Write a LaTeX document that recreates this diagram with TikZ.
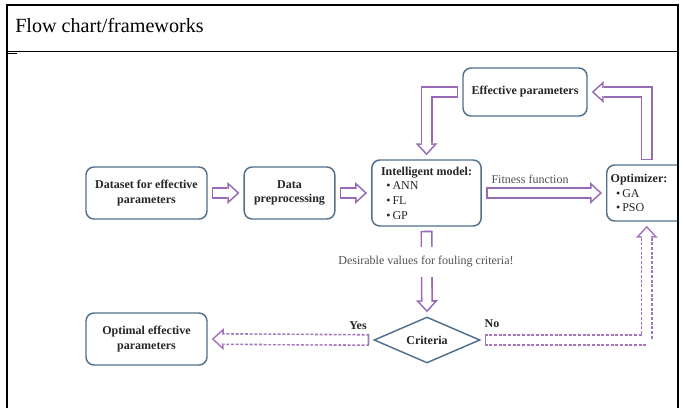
\documentclass[tikz,border=0pt]{standalone}
\usepackage{fontspec}
\setmainfont{Liberation Serif}
\usetikzlibrary{arrows.meta,shapes.geometric,positioning}
\definecolor{boxblue}{RGB}{82,112,140}
\definecolor{arrowvio}{RGB}{150,106,180}
\definecolor{dashvio}{RGB}{165,118,190}
\definecolor{txtgray}{RGB}{38,38,38}

\begin{document}
\begin{tikzpicture}[x=0.75pt,y=-0.75pt,
    box/.style={draw=boxblue,line width=1.1pt,rounded corners=6pt,fill=white,
      text=txtgray,font=\bfseries\fontsize{9}{11}\selectfont,align=center},
    hollow/.style={draw=#1,line width=9pt,shorten <=3pt,shorten >=3pt,
      -{Triangle[length=9pt,width=16.5pt,line width=0pt]},
      postaction={draw=white,solid,line width=6.6pt,shorten <=4.2pt,shorten >=4.78pt,
      -{Triangle[length=6pt,width=11pt,line width=0pt]}}},
    dashhollow/.style={hollow=dashvio,dash pattern=on 2.2pt off 1.3pt},
    lbl/.style={text=txtgray!80,font=\fontsize{9}{11}\selectfont,inner sep=1pt},
    yesno/.style={text=txtgray,font=\bfseries\fontsize{9}{11}\selectfont,inner sep=1pt}]

  \useasboundingbox (0,0) rectangle (683,408);
  \node[anchor=base west,inner sep=0pt,font=\fontsize{15.1}{18}\selectfont] (title) at (15,32) {Flow chart/frameworks};

  \begin{scope}
  \clip (8,53) rectangle (677,408);
  \node[box,minimum width=90.75pt,minimum height=39pt] (dataset) at (146.5,193) {Dataset for effective\\parameters};
  \node[box,minimum width=68pt,minimum height=39pt] (data) at (289.5,193) {Data\\preprocessing};
  \node[box,align=left,minimum width=82pt,minimum height=49.5pt] (intel) at (426.5,193)
    {Intelligent model:\\ \mdseries\hspace*{4pt}\textbullet\,ANN\\ \mdseries\hspace*{4pt}\textbullet\,FL\\ \mdseries\hspace*{4pt}\textbullet\,GP};
  \node[box,minimum width=93pt,minimum height=36pt] (eff) at (525,92) {Effective parameters};
  \node[box,anchor=west,align=left,text width=60pt,inner xsep=3pt,minimum height=42pt] (opt) at (606,193)
    {Optimizer:\\ \mdseries\hspace*{4pt}\textbullet\,GA\\ \mdseries\hspace*{4pt}\textbullet\,PSO};
  \node[box,diamond,aspect=2.3,rounded corners=0pt,minimum width=79.5pt,minimum height=34.5pt,inner sep=0pt] (crit) at (427,340) {Criteria};
  \node[box,minimum width=90.75pt,minimum height=39pt] (optimal) at (146.5,339) {Optimal effective\\parameters};

  \draw[hollow=arrowvio] (dataset) -- (data);
  \draw[hollow=arrowvio] (data) -- (intel);
  \draw[hollow=arrowvio] (intel) -- (opt.west);
  \draw[hollow=arrowvio] ([xshift=-3pt]opt.north) |- (eff.east);
  \draw[hollow=arrowvio] (eff.west) -| (intel.north);
  \draw[hollow=arrowvio] (intel.south) -- (crit.north);
  \draw[dashhollow] (crit.west) -- (optimal.east);
  \draw[dashhollow] (crit.east) -| ([xshift=-3pt]opt.south);

  \node[lbl] (fit) at (530,179) {Fitness function};
  \node[lbl,fill=white,inner ysep=7pt] (desir) at (426,262) {Desirable values for fouling criteria!};
  \node[yesno] (yes) at (358,326) {Yes};
  \node[yesno] (no) at (492,324) {No};
  \end{scope}

  \draw[line width=1.6pt] (7,408) -- (7,5) -- (678,5) -- (678,408);
  \draw[line width=0.9pt] (7,51.5) -- (678,51.5);
  \draw[line width=1.2pt] (7,53.5) -- (17,53.5);

\end{tikzpicture}
\end{document}
